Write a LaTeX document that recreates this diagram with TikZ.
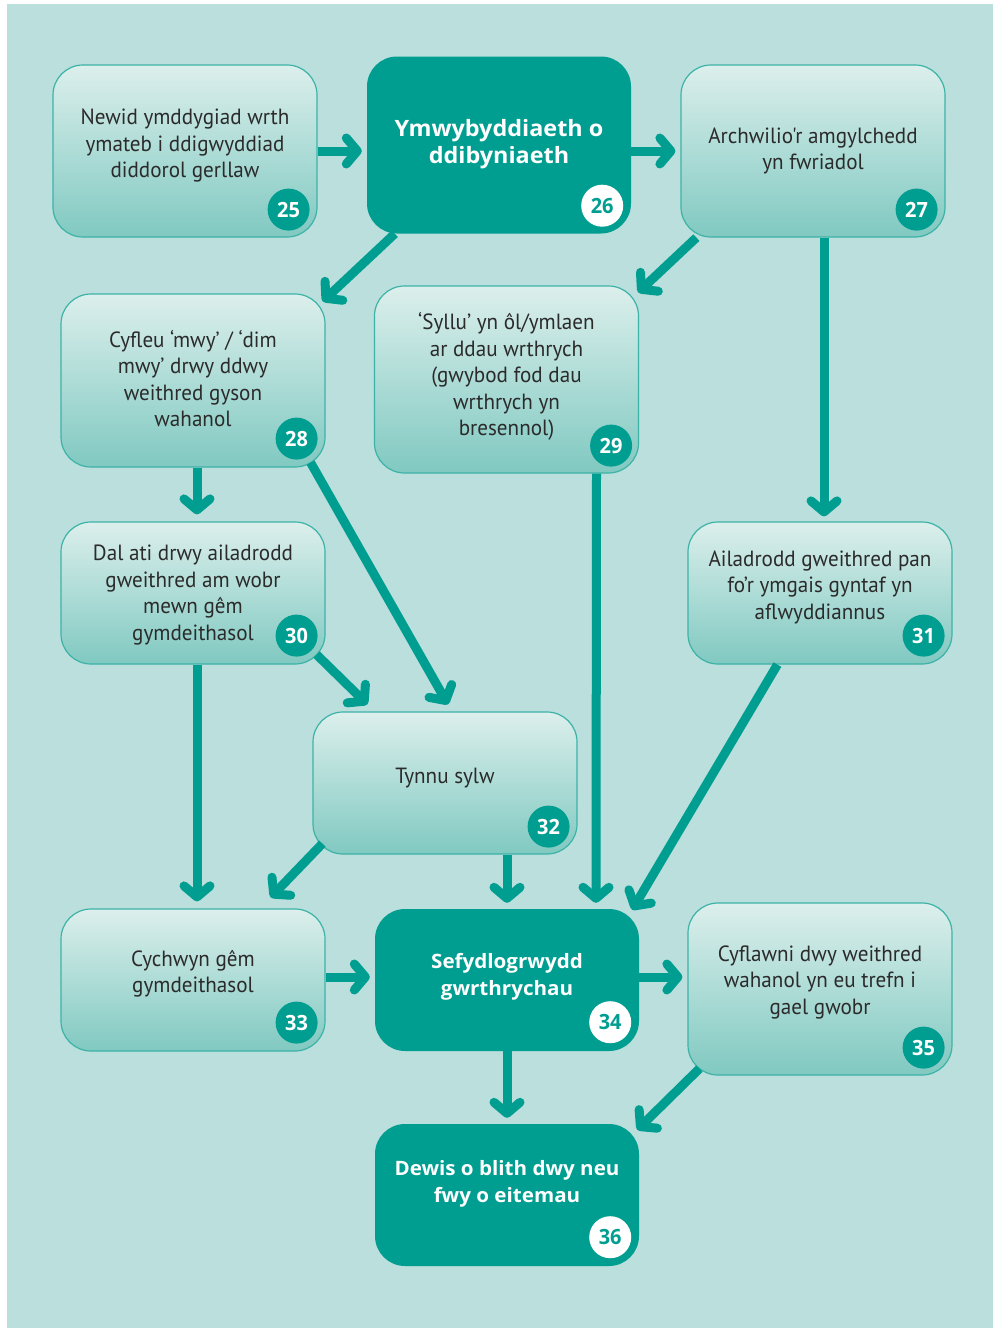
\documentclass[tikz,border=0pt]{standalone}
\usepackage{fontspec}
\setmainfont{PT Sans}[FakeStretch=0.96, Ligatures=TeXOff]
\newfontfamily\boldfam{Open Sans}[FakeStretch=1.04]
\newfontfamily\numfam{Open Sans}[FakeStretch=0.95]
\usetikzlibrary{arrows.meta}
\definecolor{bgcol}{HTML}{BADFDC}
\definecolor{tealc}{HTML}{009E91}
\definecolor{boxtop}{HTML}{DCEFEC}
\definecolor{boxbot}{HTML}{80C9C1}
\definecolor{boxline}{HTML}{3DB3A8}
\definecolor{txt}{HTML}{2B2B2B}
\tikzset{
  lbox/.style={rounded corners=30pt, draw=boxline, line width=1.2pt, top color=boxtop, bottom color=boxbot, minimum width=264pt, inner sep=0pt},
  dbox/.style={rounded corners=30pt, fill=tealc, minimum width=264pt, inner sep=0pt},
  ltext/.style={align=center, text=txt, font=\fontsize{22}{26.5}\selectfont, inner sep=0pt},
  dtext/.style={align=center, text=white, font=\boldfam\fontsize{22.5}{26.5}\selectfont\bfseries, inner sep=0pt},
  dtextsmall/.style={dtext, font=\boldfam\fontsize{19.8}{26.5}\selectfont\bfseries},
  lbadge/.style={circle, fill=tealc, text=white, minimum size=42pt, inner sep=0pt, font=\numfam\fontsize{21}{24}\selectfont\bfseries},
  dbadge/.style={circle, fill=white, text=tealc, minimum size=42pt, inner sep=0pt, font=\numfam\fontsize{21}{24}\selectfont\bfseries},
  arr/.style={draw=tealc, line width=9pt, -{Straight Barb[length=11pt,width=26pt,round]}}
}
\begin{document}
\begin{tikzpicture}[x=1pt,y=-1pt]
\useasboundingbox (0,0) rectangle (993,1328);
\fill[bgcol] (7,4) rectangle (993,1328);

% boxes
\node[lbox, minimum height=172pt] (n25) at (185,151) {};
\node[dbox, minimum height=177pt] (n26) at (499,145) {};
\node[lbox, minimum height=172pt] (n27) at (813,151) {};
\node[lbox, minimum height=173pt] (n28) at (193,380.5) {};
\node[lbox, minimum height=187pt] (n29) at (506.5,379.5) {};
\node[lbox, minimum height=142pt] (n30) at (193,593) {};
\node[lbox, minimum height=142pt] (n31) at (820,593) {};
\node[lbox, minimum height=142pt] (n32) at (445,783) {};
\node[lbox, minimum height=142pt] (n33) at (193,980) {};
\node[dbox, minimum height=142pt] (n34) at (507,980) {};
\node[lbox, minimum height=172pt] (n35) at (820,989) {};
\node[dbox, minimum height=142pt] (n36) at (507,1195) {};

% texts
\node[ltext] (t25) at ([shift={(0,-5)}]n25.center) {Newid ymddygiad wrth\\ymateb i ddigwyddiad\\diddorol gerllaw};
\node[dtext] (t26) at ([shift={(0,-1)}]n26.center) {Ymwybyddiaeth o\\ddibyniaeth};
\node[ltext] (t27) at ([shift={(0,0)}]n27.center) {Archwilio\symbol{"0027}r amgylchedd\\yn fwriadol};
\node[ltext] (t28) at ([shift={(0,-2)}]n28.center) {Cyfleu ‘mwy’ / ‘dim\\mwy’ drwy ddwy\\weithred gyson\\wahanol};
\node[ltext] (t29) at ([shift={(0,-3)}]n29.center) {‘Syllu’ yn ôl/ymlaen\\ar ddau wrthrych\\(gwybod fod dau\\wrthrych yn\\bresennol)};
\node[ltext] (t30) at ([shift={(0,2)}]n30.center) {Dal ati drwy ailadrodd\\gweithred am wobr\\mewn gêm\\gymdeithasol};
\node[ltext] (t31) at ([shift={(0,-6)}]n31.center) {Ailadrodd gweithred pan\\fo’r ymgais gyntaf yn\\aflwyddiannus};
\node[ltext] (t32) at ([shift={(0,-5)}]n32.center) {Tynnu sylw};
\node[ltext] (t33) at ([shift={(0,-6)}]n33.center) {Cychwyn gêm\\gymdeithasol};
\node[dtextsmall] (t34) at ([shift={(0,-3)}]n34.center) {Sefydlogrwydd\\gwrthrychau};
\node[ltext] (t35) at ([shift={(0,-7)}]n35.center) {Cyflawni dwy weithred\\wahanol yn eu trefn i\\gael gwobr};
\node[dtextsmall] (t36) at ([shift={(0,-11)}]n36.center) {Dewis o blith dwy neu\\fwy o eitemau};

% badges
\node[lbadge] (b25) at ([shift={(-29,-28)}]n25.south east) {25};
\node[dbadge] (b26) at ([shift={(-29,-28)}]n26.south east) {26};
\node[lbadge] (b27) at ([shift={(-29,-28)}]n27.south east) {27};
\node[lbadge] (b28) at ([shift={(-29,-29)}]n28.south east) {28};
\node[lbadge] (b29) at ([shift={(-28,-28)}]n29.south east) {29};
\node[lbadge] (b30) at ([shift={(-29,-29)}]n30.south east) {30};
\node[lbadge] (b31) at ([shift={(-29,-29)}]n31.south east) {31};
\node[lbadge] (b32) at ([shift={(-29,-28)}]n32.south east) {32};
\node[lbadge] (b33) at ([shift={(-29,-29)}]n33.south east) {33};
\node[dbadge] (b34) at ([shift={(-29,-29)}]n34.south east) {34};
\node[lbadge] (b35) at ([shift={(-29,-28)}]n35.south east) {35};
\node[dbadge] (b36) at ([shift={(-29,-29)}]n36.south east) {36};

% arrows
\draw[arr] (n25.east) -- ([shift={(-5,6)}]n26.west);
\draw[arr] ([shift={(0,6)}]n26.east) -- ([shift={(-5,0)}]n27.west);
\draw[arr] ([shift={(28,0)}]n26.south west) -- ([shift={(-3,8)}]n28.north east);
\draw[arr] ([shift={(16,0)}]n27.south west) -- ([shift={(-1,7)}]n29.north east);
\draw[arr] ([shift={(11,0)}]n27.south) -- ([shift={(4,-5)}]n31.north);
\draw[arr] ([shift={(4,0)}]n28.south) -- ([shift={(4,-7)}]n30.north);
\draw[arr] ([shift={(-15,-5)}]n28.south east) -- ([shift={(3,-7)}]n32.north);
\draw[arr] ([shift={(-9,-10)}]n30.south east) -- ([shift={(55,-7)}]n32.north west);
\draw[arr] ([shift={(90,0)}]n29.south) -- ([shift={(89,-6)}]n34.north);
\draw[arr] ([shift={(90,0)}]n31.south west) -- ([shift={(-7,1)}]n34.north east);
\draw[arr] ([shift={(4,0)}]n30.south) -- ([shift={(4,-7)}]n33.north);
\draw[arr] ([shift={(10,-11)}]n32.south west) -- ([shift={(-55,-11)}]n33.north east);
\draw[arr] ([shift={(62,0)}]n32.south) -- ([shift={(0,-6)}]n34.north);
\draw[arr] ([shift={(0,-3)}]n33.east) -- ([shift={(-5,-3)}]n34.west);
\draw[arr] ([shift={(0,-3)}]n34.east) -- ([shift={(-5,-12)}]n35.west);
\draw[arr] (n34.south) -- ([shift={(0,-6)}]n36.north);
\draw[arr] ([shift={(12,-7)}]n35.south west) -- ([shift={(-2,6)}]n36.north east);
\end{tikzpicture}
\end{document}
